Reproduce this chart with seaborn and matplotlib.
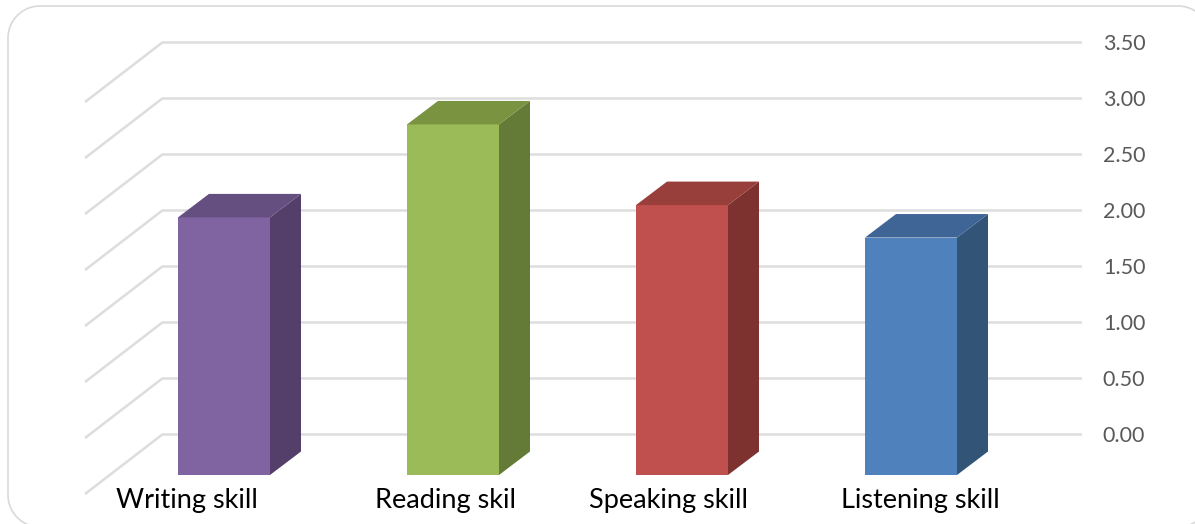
"""Skill scores as a fake-3D column chart, the way Excel draws it."""

import matplotlib.pyplot as plt
import numpy as np
import pandas as pd
import seaborn as sns
from matplotlib.lines import Line2D
from matplotlib.patches import Polygon
from matplotlib.transforms import IdentityTransform

skills = ["Writing skill", "Reading skil", "Speaking skill", "Listening skill"]
scores = [2.30, 3.13, 2.41, 2.12]
front_colors = ["#8064A2", "#9BBB59", "#C0504D", "#4F81BD"]
side_colors = ["#533F69", "#647A37", "#7D3230", "#325477"]
top_colors = ["#644F80", "#7A9340", "#983F3C", "#3E6595"]
ticks = [0.0, 0.5, 1.0, 1.5, 2.0, 2.5, 3.0, 3.5]

# category labels in the original are not centred under their bars
label_shift = [-0.162, -0.031, -0.057, 0.039]

W, H = 1195, 524
PX_X = 229.0  # pixels per category
PX_Y = 112.0  # pixels per score unit

# depth of a bar and of the floor, in data units
BAR_DX, BAR_DY = 31 / PX_X, 23.5 / PX_Y
WALL_DX, WALL_DY = 78 / PX_X, 60 / PX_Y
WALL_SHIFT = 41 / PX_Y  # back wall sits above the front of the bars

GRID = "#DDDDDD"

sns.set_theme(style="white")
plt.rcParams["font.family"] = ["Lato", "DejaVu Sans"]

fig = plt.figure(figsize=(W / 100, H / 100), dpi=100)
ax = fig.add_axes([163 / W, 0, (1082 - 163) / W, 1])
ax.patch.set_visible(False)

df = pd.DataFrame({"skill": skills, "score": scores})
sns.barplot(
    data=df,
    x="skill",
    y="score",
    hue="skill",
    palette=front_colors,
    saturation=1,
    width=92 / PX_X,
    legend=False,
    linewidth=0,
    ax=ax,
)

ax.set_xlim((163 - 224) / PX_X, (1082 - 224) / PX_X)
ax.set_ylim(-49 / PX_Y, 475 / PX_Y)

# back wall gridlines and the diagonals running to the front
wall_y = np.array(ticks) + WALL_SHIFT
ax.set_axisbelow(True)
ax.grid(axis="y", color=GRID, linewidth=1.8)
ax.grid(axis="x", visible=False)
x0 = ax.get_xlim()[0]
for y in wall_y:
    ax.plot([x0, x0 - WALL_DX], [y, y - WALL_DY], color=GRID, lw=1.8,
            clip_on=False, zorder=0.5, solid_capstyle="butt")

# side and top faces for each bar
for patch, side, top in zip(ax.patches, side_colors, top_colors):
    left, right = patch.get_x(), patch.get_x() + patch.get_width()
    height = patch.get_height()
    ax.add_patch(Polygon(
        [(right, 0), (right + BAR_DX, BAR_DY), (right + BAR_DX, height + BAR_DY), (right, height)],
        facecolor=side, edgecolor="none", zorder=patch.get_zorder(),
    ))
    ax.add_patch(Polygon(
        [(left, height), (left + BAR_DX, height + BAR_DY),
         (right + BAR_DX, height + BAR_DY), (right, height)],
        facecolor=top, edgecolor="none", zorder=patch.get_zorder(),
    ))

ax.yaxis.tick_right()
ax.set_yticks(wall_y, [f"{t:.2f}" for t in ticks])
ax.tick_params(axis="y", length=0, pad=15, labelsize=15.5, labelcolor="#595959")
ax.set_xticks([])
ax.set_xlabel("")
ax.set_ylabel("")
sns.despine(ax=ax, left=True, bottom=True, right=True, top=True)

for i, (name, shift) in enumerate(zip(skills, label_shift)):
    ax.text(i + shift, -33 / PX_Y, name, ha="center", va="baseline",
            fontsize=19.5, color="black", clip_on=False)

# rounded card outline, running off the right and bottom edges
left_px, right_px, top_px, bottom_px, r = 8, 1210, 6, 527, 32
t = np.linspace(0, np.pi / 2, 20)
card_x, card_y = [], []
for cx, cy, start in [
    (right_px - r, top_px + r, 0),
    (left_px + r, top_px + r, np.pi / 2),
    (left_px + r, bottom_px - r, np.pi),
    (right_px - r, bottom_px - r, 3 * np.pi / 2),
]:
    card_x.extend(cx + r * np.cos(start + t))
    card_y.extend(H - cy + r * np.sin(start + t))
fig.add_artist(Line2D(
    card_x + card_x[:1], card_y + card_y[:1],
    transform=IdentityTransform(), color="#D9D9D9", lw=1.2, zorder=-1,
))

fig.savefig("out.png", dpi=100)
